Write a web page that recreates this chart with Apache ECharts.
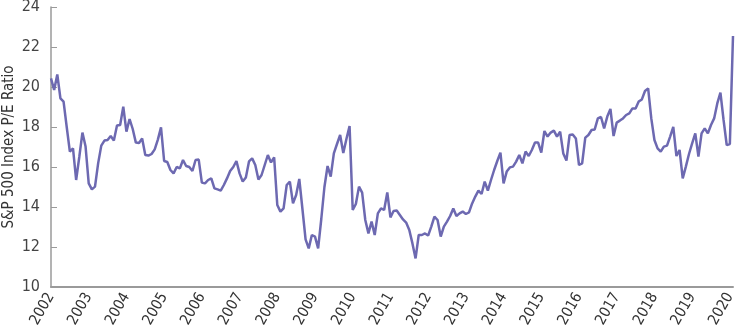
<!DOCTYPE html>
<html>
<head>
<meta charset="utf-8">
<script src="https://cdn.jsdelivr.net/npm/echarts@6/dist/echarts.min.js"></script>
<style>
  html, body { margin: 0; padding: 0; background: #fff; }
  #pe_chart { width: 735px; height: 328px; }
</style>
</head>
<body>
<div id="pe_chart"></div>
<script>
// monthly S&P 500 P/E, Jan 2002 onward
let pe2002_2007 = [
	20.43, 19.85, 20.63, 19.43, 19.27, 18.0, 16.77, 16.93, 15.35, 16.5, 17.72, 17.02,
	15.18, 14.88, 15.02, 16.18, 17.07, 17.32, 17.35, 17.55, 17.32, 18.07, 18.1, 19.02,
	17.77, 18.4, 17.9, 17.22, 17.2, 17.43, 16.6, 16.57, 16.65, 16.88, 17.37, 17.98,
	16.3, 16.25, 15.85, 15.68, 16.0, 15.93, 16.35, 16.05, 16.0, 15.8, 16.35, 16.37,
	15.22, 15.18, 15.35, 15.43, 14.93, 14.88, 14.82, 15.1, 15.43, 15.8, 16.0, 16.3,
	15.68, 15.27, 15.47, 16.28
];
let pe2007_2011 = [
	16.43, 16.1, 15.38, 15.6, 16.1, 16.6, 16.23, 16.48, 14.1, 13.77, 13.93, 15.1,
	15.27, 14.18, 14.6, 15.4, 13.9, 12.38, 11.93, 12.6, 12.52, 11.93, 13.4, 15.0,
	16.05, 15.52, 16.68, 17.15, 17.6, 16.7, 17.4, 18.05, 13.85, 14.15, 15.02, 14.72,
	13.35, 12.68, 13.27, 12.6, 13.68, 13.93, 13.85, 14.73, 13.48, 13.8, 13.82, 13.6,
	13.38, 13.22, 12.85, 12.18, 11.43
];
let pe2011_2013 = [
	12.6, 12.6, 12.68, 12.57, 13.02, 13.52, 13.35, 12.52, 13.02, 13.27, 13.55, 13.93,
	13.55, 13.68, 13.77, 13.65, 13.73, 14.18, 14.52, 14.82, 14.65
];
let pe2013_2020 = [
	15.27, 14.82, 15.35, 15.85, 16.3, 16.72, 15.18, 15.77, 15.98, 16.02, 16.27, 16.6,
	16.18, 16.77, 16.55, 16.85, 17.22, 17.22, 16.72, 17.8, 17.52, 17.72, 17.82, 17.52,
	17.77, 16.68, 16.32, 17.6, 17.63, 17.43, 16.1, 16.18, 17.47, 17.6, 17.85, 17.88,
	18.43, 18.5, 17.93, 18.52, 18.9, 17.55, 18.22, 18.32, 18.43, 18.6, 18.68, 18.93,
	18.92, 19.27, 19.38, 19.8, 19.93, 18.43, 17.35, 16.93, 16.77, 17.02, 17.07, 17.52,
	18.0, 16.55, 16.85, 15.43, 16.02, 16.65, 17.18, 17.68, 16.52, 17.68, 17.93, 17.68,
	18.1, 18.43, 19.18, 19.72, 18.35, 17.1, 17.15, 22.55
];
let years = ['2002', '2003', '2004', '2005', '2006', '2007', '2008', '2009', '2010', '2011',
	'2012', '2013', '2014', '2015', '2016', '2017', '2018', '2019', '2020'];
let yTicks = [10, 12, 14, 16, 18, 20, 22, 24];

let peData = pe2002_2007.concat(pe2007_2011, pe2011_2013, pe2013_2020);
// one category per month, year label on each January
let months = peData.map(function(v, i) {
	return i % 12 == 0 ? years[i / 12] : '';
});

let chart = echarts.init(document.getElementById('pe_chart'));
let font = "'Liberation Sans Narrow', 'DejaVu Sans Condensed', sans-serif";

option = {
	animation: false,
	grid: {
		left: 51,
		right: 2,
		top: 7,
		bottom: 41,
		containLabel: false,
		outerBoundsMode: 'none'
	},
	xAxis: {
		type: 'category',
		data: months,
		boundaryGap: false,
		axisLine: { lineStyle: { color: '#9a9a9a', width: 2 } },
		axisTick: { show: false },
		axisLabel: {
			interval: function(i) { return i % 12 == 0; },
			rotate: 60,
			margin: 7,
			color: '#333',
			fontFamily: font,
			fontSize: 15
		},
		splitLine: { show: false }
	},
	yAxis: {
		type: 'value',
		min: yTicks[0],
		max: yTicks[yTicks.length - 1],
		interval: 2,
		name: 'S&P 500 Index P/E Ratio',
		nameLocation: 'middle',
		nameGap: 34,
		nameMoveOverlap: false,
		nameTextStyle: { color: '#333', fontFamily: font, fontSize: 15 },
		axisLine: { show: true, lineStyle: { color: '#9a9a9a', width: 1.5 } },
		axisTick: { show: true, inside: true, length: 6, lineStyle: { color: '#9a9a9a' } },
		axisLabel: { color: '#444', fontFamily: font, fontSize: 16, margin: 11 },
		splitLine: { show: false }
	},
	series: [{
		type: 'line',
		data: peData,
		symbol: 'none',
		lineStyle: { color: '#6d69b1', width: 2.5 }
	}]
};
chart.setOption(option, true);
</script>
</body>
</html>
